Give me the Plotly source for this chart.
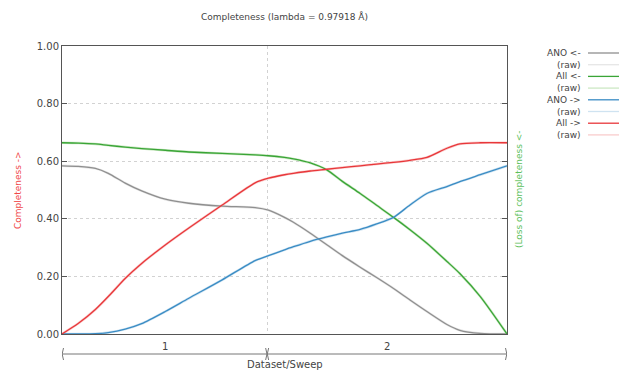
import plotly.graph_objects as go

# ---- data ----
X = [0, 3.7, 7.5, 10.4, 14.2, 17.9, 23.2, 28.5, 36, 43.4, 46.4, 50, 52, 55.8, 59.5, 63, 67, 70.7, 74.5, 78.2, 82, 86.5, 89.4, 94, 100]
ANO_BACK = [.584, .582, .575, .558, .524, .497, .468, .454, .444, .439, .430, .405, .388, .350, .310, .272, .232, .196, .158, .118, .078, .033, .013, .002, 0.0]
ALL_BACK = [.664, .663, .660, .655, .649, .644, .638, .632, .627, .622, .619, .613, .608, .594, .570, .530, .488, .447, .405, .362, .315, .252, .210, .130, 0.0]
ANO_FWD = [0.0, 0.0, .001, .005, .017, .036, .078, .124, .188, .255, .272, .292, .303, .322, .337, .350, .363, .382, .405, .448, .488, .512, .529, .553, .584]
ALL_FWD = [0.0, .037, .085, .130, .193, .245, .309, .368, .448, .525, .541, .553, .558, .566, .572, .578, .584, .590, .596, .603, .613, .645, .660, .664, .664]

SWEEPS = ["1", "2"]
SWEEP_BOUNDS = [(0, 46.1), (46.1, 100)]
Y_TICKS = [0, 0.2, 0.4, 0.6, 0.8, 1.0]
TITLE = "Completeness (lambda = 0.97918 Å)"

SERIES = [
    ("ANO <-", ANO_BACK, "#8f8f8f", "#e6e6e6"),
    ("All <-", ALL_BACK, "#3aa537", "#cce8c4"),
    ("ANO ->", ANO_FWD, "#3a8cc4", "#cfe3f1"),
    ("All ->", ALL_FWD, "#e8373a", "#f9cccc"),
]

FONT = "DejaVu Sans"
TXT = "#444444"

fig = go.Figure()
# raw traces underneath
for name, ys, col, light in SERIES:
    fig.add_trace(go.Scatter(x=X, y=ys, mode="lines", name="(raw)",
                             line=dict(color=light, width=2.5, shape="spline", smoothing=0.7),
                             showlegend=False, hoverinfo="skip"))
for name, ys, col, light in SERIES:
    fig.add_trace(go.Scatter(x=X, y=ys, mode="lines", name=name,
                             line=dict(color=col, width=1.3, shape="spline", smoothing=0.7),
                             showlegend=False))

L, R, T, B = 62, 112, 46, 40
W, H = 619, 374
PW, PH = W - L - R, H - T - B

fig.update_layout(
    width=W, height=H,
    margin=dict(l=L, r=R, t=T, b=B),
    paper_bgcolor="white", plot_bgcolor="white",
    font=dict(family=FONT, size=9, color=TXT),
    title=dict(text=TITLE, x=(L + PW / 2) / W, xanchor="center", y=1 - 17 / H, yanchor="middle",
               font=dict(family=FONT, size=9, color=TXT)),
    showlegend=False,
)

boundary = [b[1] for b in SWEEP_BOUNDS[:-1]]
fig.update_xaxes(range=[SWEEP_BOUNDS[0][0], SWEEP_BOUNDS[-1][1]], tickvals=boundary, showticklabels=False,
                 ticks="", showgrid=True, gridcolor="#d2d2d2", griddash="dot", gridwidth=1,
                 showline=True, linecolor="#555555", linewidth=1, mirror=True, zeroline=False)
fig.update_yaxes(range=[0, 1], tickvals=Y_TICKS, ticktext=[f"{v:.2f}" for v in Y_TICKS],
                 ticks="inside", ticklen=5, tickcolor="#555555", mirror="ticks",
                 showgrid=True, gridcolor="#d2d2d2", griddash="dot", gridwidth=1,
                 showline=True, linecolor="#555555", linewidth=1, zeroline=False,
                 tickfont=dict(family=FONT, size=10, color=TXT))

# sweep brackets below the axis
py = lambda px_below: -px_below / PH
bx = 0.225  # ~1px in data units
for (a, b), lab in zip(SWEEP_BOUNDS, SWEEPS):
    fig.add_shape(type="line", xref="x", yref="paper", x0=a, x1=b, y0=py(20), y1=py(20),
                  line=dict(color="#777777", width=1))
    fig.add_shape(type="path", xref="x", yref="paper",
                  path=f"M {a + 1.5*bx},{py(14)} Q {a - 1.2*bx},{py(20)} {a + 1.5*bx},{py(26)}",
                  line=dict(color="#777777", width=1))
    fig.add_shape(type="path", xref="x", yref="paper",
                  path=f"M {b - 1.5*bx},{py(14)} Q {b + 1.2*bx},{py(20)} {b - 1.5*bx},{py(26)}",
                  line=dict(color="#777777", width=1))
    fig.add_annotation(x=(a + b) / 2, y=py(12), xref="x", yref="paper", text=lab, showarrow=False,
                       font=dict(family=FONT, size=10, color=TXT), yanchor="middle")
fig.add_annotation(x=0.5, y=py(30), xref="paper", yref="paper", text="Dataset/Sweep", showarrow=False,
                   font=dict(family=FONT, size=10, color=TXT), yanchor="middle")

# axis titles
fig.add_annotation(x=(18 - L) / PW, y=0.5, xref="paper", yref="paper", text="Completeness ->",
                   textangle=-90, showarrow=False, xanchor="center", yanchor="middle",
                   font=dict(family=FONT, size=9, color="#f04848"))
fig.add_annotation(x=(519 - L) / PW, y=0.5, xref="paper", yref="paper", text="(Loss of) completeness <-",
                   textangle=-90, showarrow=False, xanchor="center", yanchor="middle",
                   font=dict(family=FONT, size=9, color="#5cbf5c"))

# legend (text left of sample line)
labels = []
for name, ys, col, light in SERIES:
    labels.append((name, col))
    labels.append(("(raw)", light))
for i, (lab, col) in enumerate(labels):
    ypx = 53 + i * 11.7
    yp = (H - B - ypx) / PH
    fig.add_annotation(x=(583 - L) / PW, y=yp, xref="paper", yref="paper", text=lab, showarrow=False,
                       xanchor="right", yanchor="middle", font=dict(family=FONT, size=9, color=TXT))
    fig.add_shape(type="line", xref="paper", yref="paper", x0=(588 - L) / PW, x1=(619 - L) / PW,
                  y0=yp, y1=yp, line=dict(color=col, width=1.3))

fig.write_html("out.html")
